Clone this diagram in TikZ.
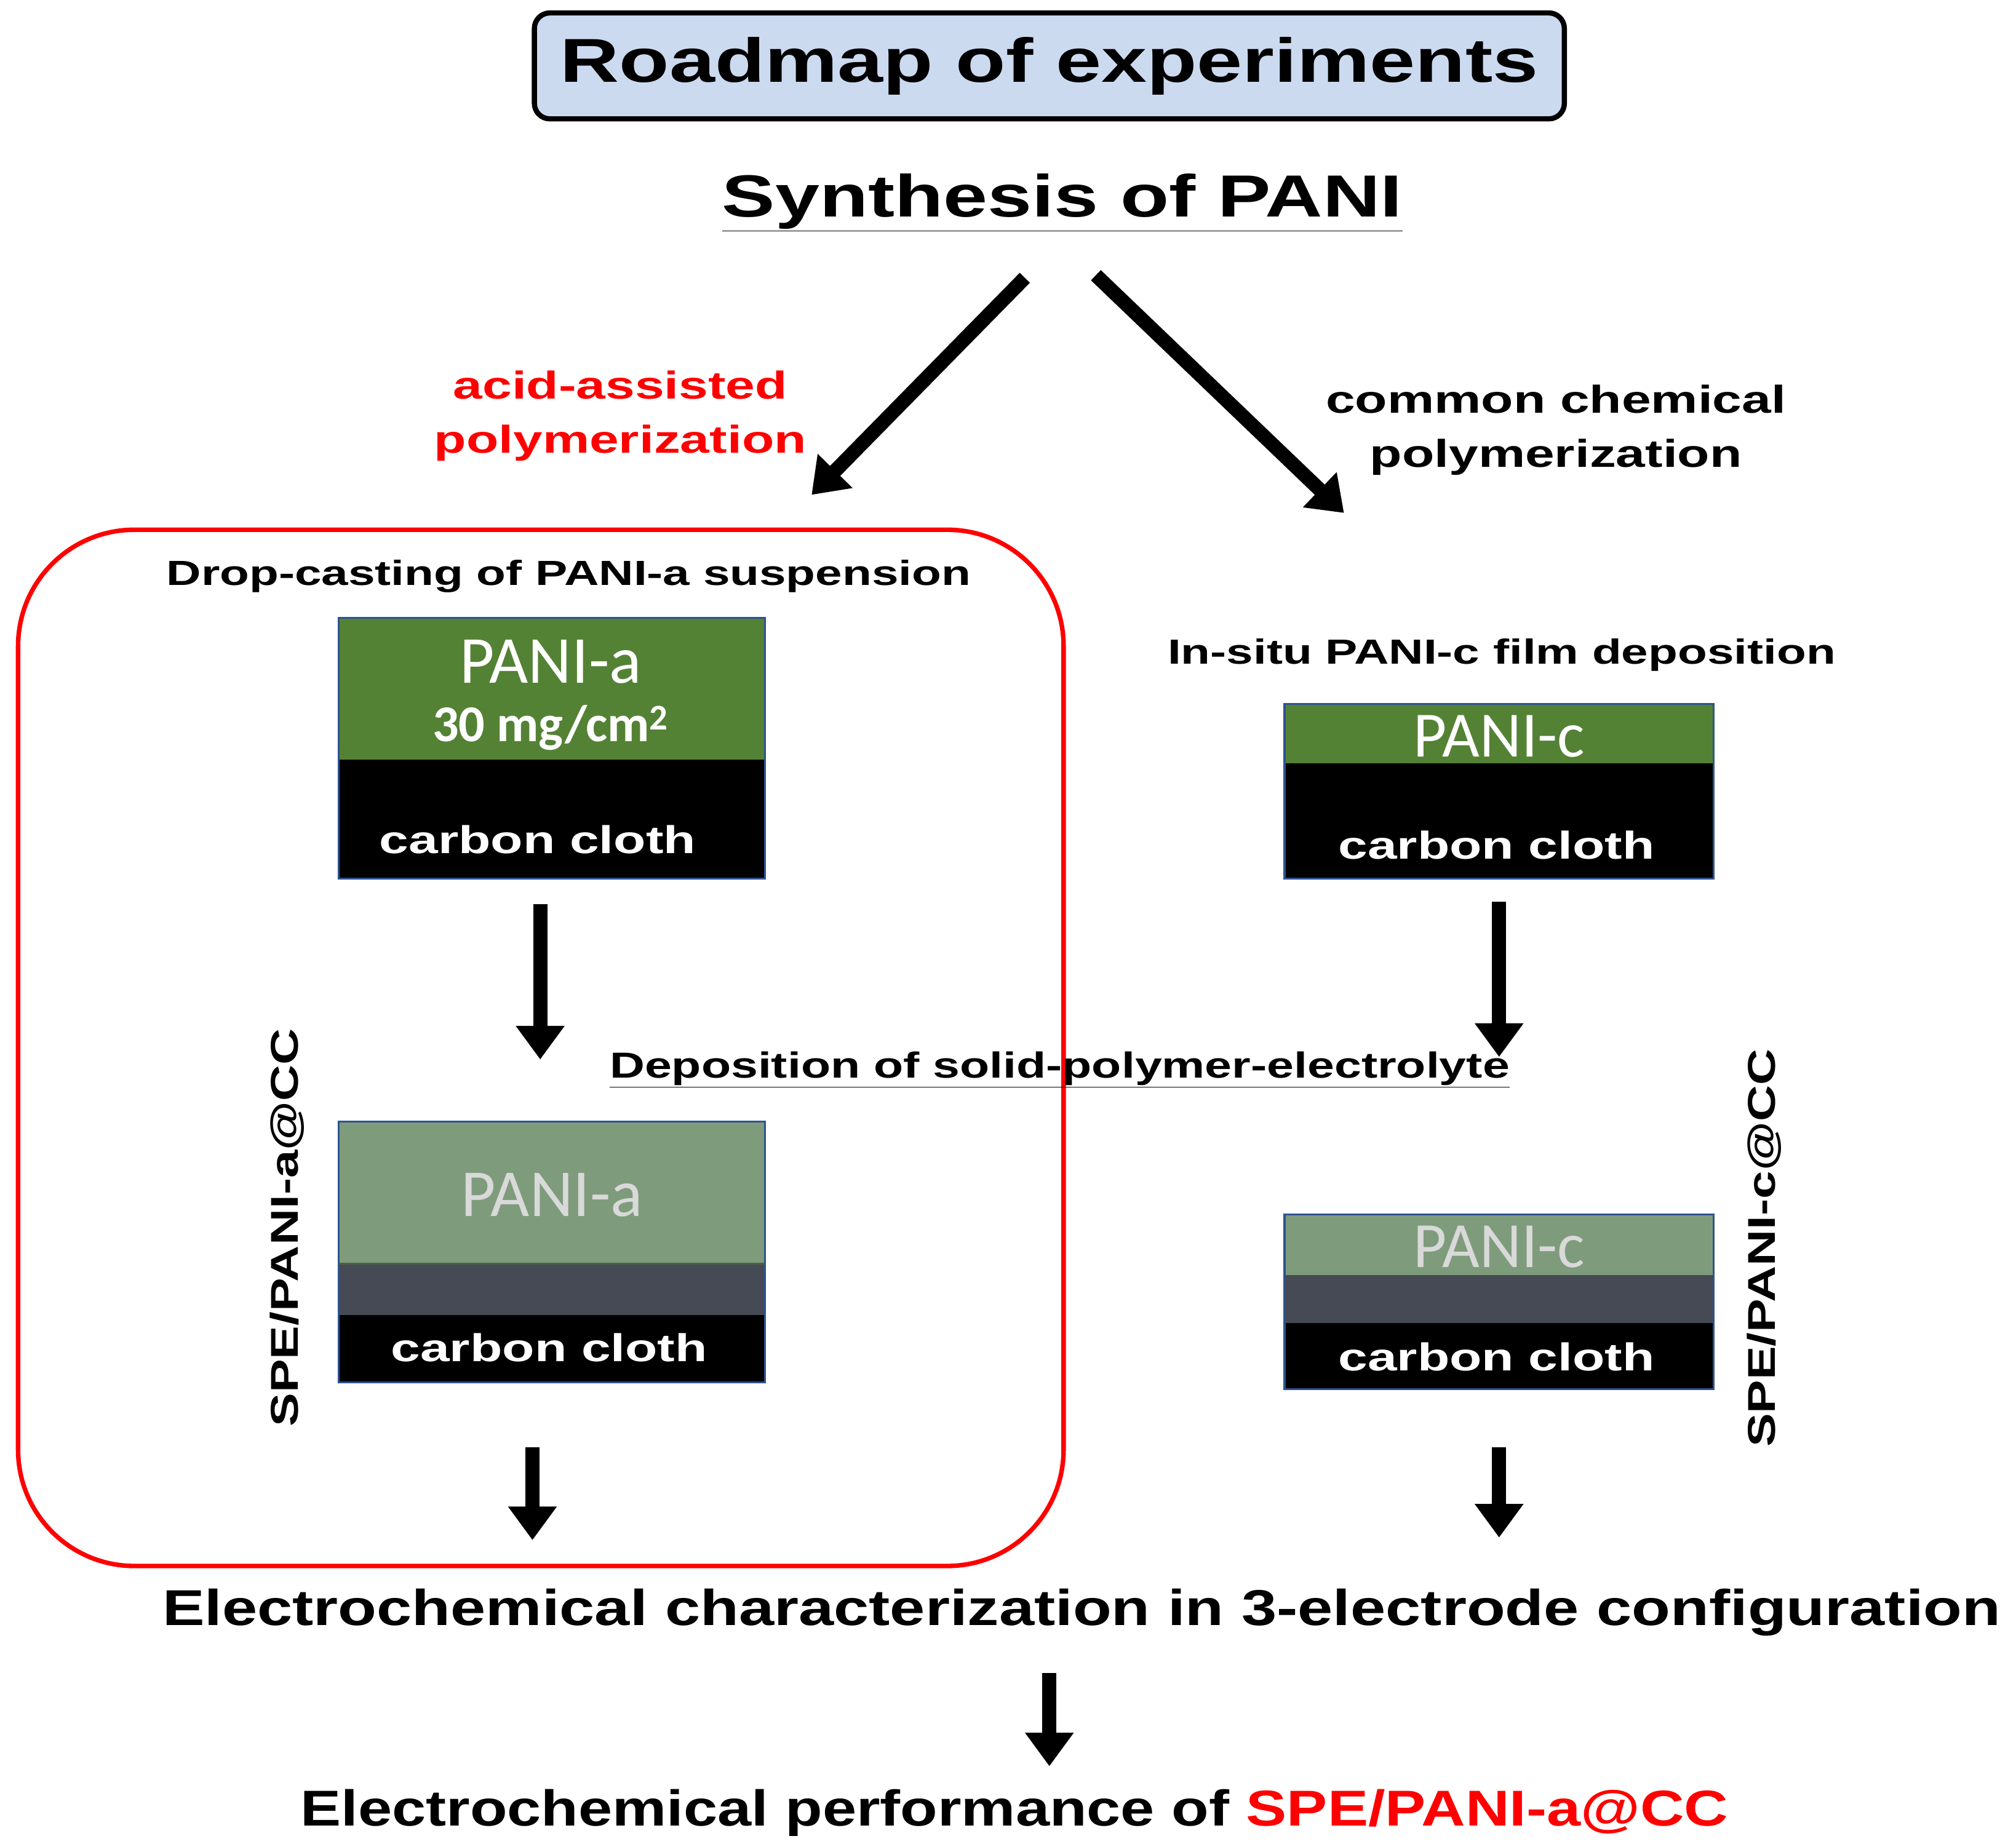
\documentclass[tikz,border=0pt]{standalone}
\usepackage{fontspec}
\setmainfont{Liberation Sans}
\newfontfamily\calfont{Carlito}
\usetikzlibrary{arrows.meta}
\definecolor{tb}{RGB}{204,218,240}
\definecolor{gA}{RGB}{84,130,53}
\definecolor{gB}{RGB}{126,156,124}
\definecolor{dg}{RGB}{70,74,84}
\definecolor{bb}{RGB}{47,82,143}
\newcommand{\W}[2][1.36]{\scalebox{#1}[1]{#2}}
\newcommand{\ul}[1]{\underline{#1}}
\begin{document}
\begin{tikzpicture}[x=1pt,y=-1pt,
 big/.style={line width=11pt,-{Triangle[length=26pt,width=36pt]}},
 bt/.style={font=\bfseries\fontsize{#1}{#1}\selectfont,inner sep=0},
 lay/.style={draw=bb,line width=1.5pt},
 cl/.style={font=\calfont\fontsize{#1}{#1}\selectfont,inner sep=0}]
\useasboundingbox (0,0) rectangle (1560,1427);
\node[draw,line width=4pt,rounded corners=12pt,fill=tb,minimum width=797pt,minimum height=82pt,bt=48] (title) at (812,51) {\W[1.32]{Roadmap of experiments}};
\node[bt=46] (syn) at (822,157) {\W[1.34]{\ul{Synthesis of PANI}}};
\coordinate (s1) at (793,215); \coordinate (e1) at (628,383);
\coordinate (s2) at (848,213); \coordinate (e2) at (1040,397);
\draw[big] (s1) -- (e1);
\draw[big] (s2) -- (e2);
\node[bt=30,text=red,align=center] (acid) at (480,322) {\W{acid-assisted}\\[12pt]\W{polymerization}};
\node[bt=30,align=center] (comm) at (1204,333) {\W{common chemical}\\[12pt]\W{polymerization}};
\draw[red,line width=3.5pt,rounded corners=90pt] (14,410) rectangle (823,1212);
\node[bt=27] (drop) at (440,446) {\W[1.38]{Drop-casting of PANI-a suspension}};
% box1
\fill[gA] (262,478) rectangle (592,588);
\fill[black] (262,588) rectangle (592,680);
\draw[lay] (262,478) rectangle (592,680);
\node[cl=52,text=white] (pa) at (426,512) {PANI-a};
\node[text=white,inner sep=0,font=\calfont\bfseries\fontsize{40}{40}\selectfont] (mg) at (426,563) {30 mg/cm\textsuperscript{2}};
\node[bt=30,text=white] (cc1) at (416,650) {\W{carbon cloth}};
% box2
\node[bt=27] (insitu) at (1162,507) {\W[1.38]{In-situ PANI-c film deposition}};
\fill[gA] (994,545) rectangle (1326,591);
\fill[black] (994,591) rectangle (1326,680);
\draw[lay] (994,545) rectangle (1326,680);
\node[cl=50,text=white] (pc) at (1160,570) {PANI-c};
\node[bt=30,text=white] (cc2) at (1158,654) {\W{carbon cloth}};
% arrows
\coordinate (a1) at (418,700); \coordinate (b1) at (418,820);
\coordinate (a2) at (1160,698); \coordinate (b2) at (1160,818);
\draw[big] (a1) -- (b1);
\draw[big] (a2) -- (b2);
\node[bt=28] (dep) at (820,828) {\W[1.34]{\ul{Deposition of solid-polymer-electrolyte}}};
% box3
\fill[gB] (262,868) rectangle (592,978);
\fill[dg] (262,978) rectangle (592,1018);
\fill[black] (262,1018) rectangle (592,1070);
\draw[lay] (262,868) rectangle (592,1070);
\draw[gB!60!black,line width=1pt] (262,978) -- (592,978);
\node[cl=52,text=black!15] (pa2) at (427,925) {PANI-a};
\node[bt=30,text=white] (cc3) at (425,1043) {\W{carbon cloth}};
% box4
\fill[gB] (994,940) rectangle (1326,987);
\fill[dg] (994,987) rectangle (1326,1024);
\fill[black] (994,1024) rectangle (1326,1075);
\draw[lay] (994,940) rectangle (1326,1075);
\node[cl=50,text=black!15] (pc2) at (1160,965) {PANI-c};
\node[bt=30,text=white] (cc4) at (1158,1050) {\W{carbon cloth}};
\node[bt=30,rotate=90] (spea) at (222,950) {\W[1.3]{SPE/PANI-a@CC}};
\node[bt=30,rotate=90] (spec) at (1365,966) {\W[1.3]{SPE/PANI-c@CC}};
\coordinate (a3) at (412,1120); \coordinate (b3) at (412,1192);
\coordinate (a4) at (1160,1120); \coordinate (b4) at (1160,1190);
\draw[big] (a3) -- (b3);
\draw[big] (a4) -- (b4);
\node[bt=39] (ec) at (837,1248) {\W[1.255]{Electrochemical characterization in 3-electrode configuration}};
\coordinate (a5) at (812,1295); \coordinate (b5) at (812,1367);
\draw[big] (a5) -- (b5);
\node[bt=39] (perf) at (785,1403) {\W[1.21]{Electrochemical performance of \textcolor{red}{SPE/PANI-a@CC}}};
\end{tikzpicture}
\end{document}
